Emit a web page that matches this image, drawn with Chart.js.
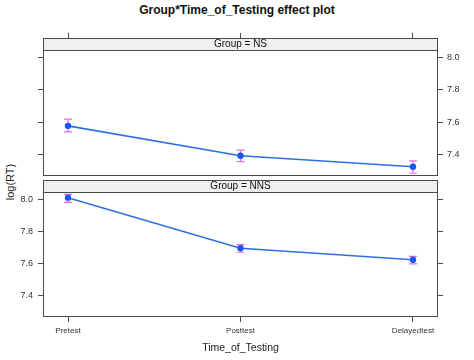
<!DOCTYPE html>
<html>
<head>
<meta charset="utf-8">
<script src="https://cdn.jsdelivr.net/npm/chart.js@4"></script>
<style>
  body { margin: 0; background: #fff; font-family: "Liberation Sans", Arial, sans-serif; }
  #wrap { position: relative; width: 474px; height: 360px; overflow: hidden; }
  canvas { position: absolute; left: 0; }
  #title { position: absolute; top: 3px; left: 0; width: 474px; text-align: center; font-weight: bold; font-size: 12px; color: #111; }
  #ylab { position: absolute; left: 10px; top: 182px; transform: translate(-50%, -50%) rotate(-90deg); font-size: 11px; color: #222; white-space: nowrap; }
</style>
</head>
<body>
<div id="wrap">
  <div id="title">Group*Time_of_Testing effect plot</div>
  <div id="ylab">log(RT)</div>
  <canvas id="top" width="474" height="180" style="top:0"></canvas>
  <canvas id="bottom" width="474" height="184" style="top:176px"></canvas>
</div>
<script>
// data
const timePoints = ['Pretest', 'Posttest', 'Delayedtest'];
const nsFit   = [7.577, 7.392, 7.324];
const nsLower = [7.540, 7.356, 7.284];
const nsUpper = [7.619, 7.427, 7.360];
const nnsFit   = [8.010, 7.695, 7.623];
const nnsLower = [7.981, 7.670, 7.598];
const nnsUpper = [8.031, 7.718, 7.645];
const yTicks = [7.4, 7.6, 7.8, 8.0];

const FONT = '"Liberation Sans", Arial, sans-serif';
const frameColor = '#4a4a4a';
const stripH = 12;

// strip + frame + error bars
const panelPlugin = {
  id: 'panel',
  beforeDatasetsDraw(chart) {
    const {ctx, chartArea: a} = chart;
    const opts = chart.options.plugins.panel;
    ctx.save();
    ctx.fillStyle = '#efefef';
    ctx.fillRect(a.left, a.top, a.right - a.left, stripH);
    ctx.fillStyle = '#111';
    ctx.font = '10px ' + FONT;
    ctx.textAlign = 'center';
    ctx.textBaseline = 'middle';
    ctx.fillText(opts.label, (a.left + a.right) / 2, a.top + stripH / 2 + 0.5);
    // error bars
    const x = chart.scales.x, y = chart.scales.y;
    ctx.strokeStyle = '#e36ae3';
    ctx.lineWidth = 1.2;
    opts.lower.forEach((lo, i) => {
      const px = x.getPixelForValue(i + 1);
      const p1 = y.getPixelForValue(lo), p2 = y.getPixelForValue(opts.upper[i]);
      ctx.beginPath();
      ctx.moveTo(px, p1); ctx.lineTo(px, p2);
      ctx.moveTo(px - 4, p1); ctx.lineTo(px + 4, p1);
      ctx.moveTo(px - 4, p2); ctx.lineTo(px + 4, p2);
      ctx.stroke();
    });
    ctx.restore();
  },
  afterDraw(chart) {
    const {ctx, chartArea: a} = chart;
    ctx.save();
    ctx.strokeStyle = frameColor;
    ctx.lineWidth = 1;
    ctx.strokeRect(Math.round(a.left) + 0.5, Math.round(a.top) + 0.5,
      Math.round(a.right - a.left) - 1, Math.round(a.bottom - a.top) - 1);
    ctx.beginPath();
    ctx.moveTo(a.left, Math.round(a.top + stripH) + 0.5);
    ctx.lineTo(a.right, Math.round(a.top + stripH) + 0.5);
    ctx.stroke();
    ctx.restore();
  }
};

function yAxis(pos, showLabels, width) {
  return {
    type: 'linear', position: pos, min: 7.267, max: 8.12,
    afterBuildTicks: s => { s.ticks = yTicks.map(v => ({value: v})); },
    afterFit: s => { s.width = width; s.paddingTop = 0; s.paddingBottom = 0; },
    border: {display: false},
    grid: {drawOnChartArea: false, drawTicks: true, tickLength: 5, color: frameColor},
    ticks: {display: showLabels, padding: pos === 'left' ? 5 : 4, color: '#333',
      font: {family: FONT, size: 9}, callback: v => v.toFixed(1)}
  };
}

function xAxis(pos, showLabels, height) {
  const ax = {
    type: 'linear', position: pos, min: 0.855, max: 3.145,
    afterBuildTicks: s => { s.ticks = timePoints.map((t, i) => ({value: i + 1})); },
    afterFit: s => { s.height = height; s.paddingLeft = 0; s.paddingRight = 0; },
    border: {display: false},
    grid: {drawOnChartArea: false, drawTicks: true, tickLength: 5, color: frameColor},
    ticks: {display: showLabels, padding: 4, color: '#333', maxRotation: 0,
      font: {family: FONT, size: 8}, callback: v => timePoints[v - 1]}
  };
  if (showLabels) {
    ax.title = {display: true, text: 'Time_of_Testing', color: '#222',
      font: {family: FONT, size: 10.5}, padding: {top: 0, bottom: 6}};
  }
  return ax;
}

function panel(id, label, fit, lower, upper, isTop) {
  const scales = isTop
    ? {x: xAxis('top', false, 38), y: yAxis('left', false, 43), y2: yAxis('right', true, 36)}
    : {x: xAxis('bottom', true, 43), y: yAxis('left', true, 43), y2: yAxis('right', false, 36)};
  new Chart(document.getElementById(id), {
    type: 'line',
    data: {
      datasets: [{
        data: fit.map((v, i) => ({x: i + 1, y: v})),
        borderColor: '#2c6fe3',
        borderWidth: 1.6,
        pointBackgroundColor: '#1a56f0',
        pointBorderWidth: 0,
        pointRadius: 3.2,
        tension: 0
      }]
    },
    options: {
      responsive: false,
      animation: false,
      layout: {padding: isTop ? {bottom: 2} : {top: 2}},
      scales: scales,
      plugins: {
        legend: {display: false},
        tooltip: {enabled: false},
        panel: {label: label, lower: lower, upper: upper}
      }
    },
    plugins: [panelPlugin]
  });
}

panel('top', 'Group = NS', nsFit, nsLower, nsUpper, true);
panel('bottom', 'Group = NNS', nnsFit, nnsLower, nnsUpper, false);
</script>
</body>
</html>
